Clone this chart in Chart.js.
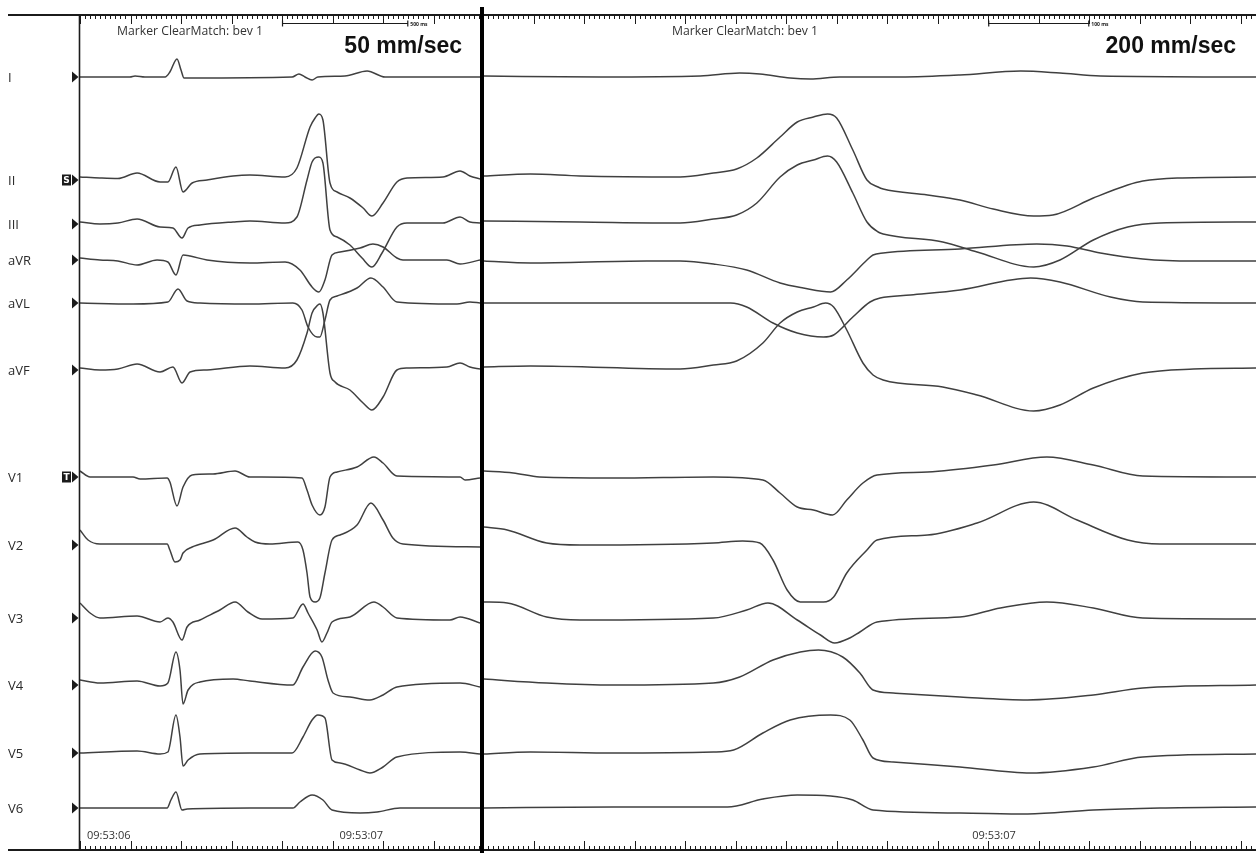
<!DOCTYPE html>
<html>
<head>
<meta charset="utf-8">
<script src="https://cdn.jsdelivr.net/npm/chart.js@4.4.1/dist/chart.umd.min.js"></script>
<style>
  html, body { margin: 0; padding: 0; background: #fff; }
  #wrap { position: relative; width: 1256px; height: 853px; overflow: hidden; }
  canvas { position: absolute; top: 0; }
</style>
</head>
<body>
<div id="wrap">
  <canvas id="slow" width="484" height="853" style="left:0px"></canvas>
  <canvas id="fast" width="772" height="853" style="left:484px"></canvas>
</div>
<script>
const leadNames = ['I', 'II', 'III', 'aVR', 'aVL', 'aVF', 'V1', 'V2', 'V3', 'V4', 'V5', 'V6'];

// 50 mm/sec strip: [ms after 09:53:06, amplitude]
const I_50 = [[0,0],[198,0],[218,1],[257,0],[337,0],[356,5],[384,18],[400,7],[412,-1],[436,-1],[840,0],[867,3],[891,0],[919,-3],[942,0],[1049,1],[1137,6],[1208,0],[1584,0]];
const II_50 = [[0,3],[79,2],[150,1.5],[226,7],[317,-2],[348,-2],[380,13],[408,-12],[444,-3],[503,0],[606,4],[673,5],[812,3],[859,12],[911,53],[931,62],[946,66],[962,60],[990,-3],[1018,-12],[1069,-18],[1121,-28],[1156,-36],[1200,-23],[1255,-2],[1295,2],[1437,3],[1505,9],[1544,4],[1584,1]];
const III_50 = [[0,2],[79,0],[150,1],[226,5],[317,-3],[368,-4],[404,-14],[428,-4],[475,-1],[606,2],[673,3],[812,1],[859,7],[899,44],[919,62],[946,67],[962,61],[990,-6],[1018,-13],[1069,-21],[1117,-34],[1156,-43],[1196,-29],[1255,-3],[1295,1],[1437,1],[1505,7],[1544,2],[1584,1]];
const aVR_50 = [[0,2],[79,0],[150,-1],[226,-5],[305,0],[348,-2],[380,-15],[408,5],[436,4],[503,0],[673,-3],[812,-2],[871,-10],[919,-27],[946,-32],[970,-20],[998,5],[1030,8],[1109,12],[1160,16],[1200,13],[1255,2],[1279,0],[1453,0],[1505,-4],[1584,0]];
const aVL_50 = [[0,0],[210,-1],[348,1],[388,14],[424,2],[475,0],[673,-1],[843,0],[879,-7],[903,-24],[939,-34],[950,-34],[970,-17],[990,3],[1018,7],[1097,15],[1152,25],[1200,16],[1255,1],[1493,-1],[1544,1],[1584,0]];
const aVF_50 = [[0,2],[79,0],[150,1],[226,6],[317,-2],[368,3],[404,-13],[436,-2],[503,0],[673,4],[812,2],[859,10],[899,37],[919,57],[942,65],[950,66],[962,57],[990,-3],[1010,-12],[1069,-20],[1121,-33],[1156,-40],[1200,-27],[1255,0],[1295,2],[1453,3],[1505,7],[1544,3],[1584,1]];
const V1_50 = [[0,6],[40,0],[210,0],[238,-2],[345,-1],[356,-5],[384,-29],[408,-10],[444,2],[527,3],[614,6],[673,0],[879,-1],[899,-13],[919,-28],[950,-38],[970,-30],[990,0],[1018,5],[1097,10],[1164,20],[1200,14],[1255,1],[1505,0],[1525,-3],[1584,-1]];
const V2_50 = [[0,15],[32,5],[79,1],[345,1],[356,-5],[376,-17],[396,-15],[408,-8],[444,-2],[527,5],[614,17],[661,8],[693,3],[752,1],[863,3],[883,-5],[899,-28],[911,-52],[931,-57],[950,-53],[970,-28],[998,5],[1030,10],[1097,20],[1152,42],[1200,25],[1239,7],[1279,1],[1584,-2]];
const V3_50 = [[0,15],[40,5],[79,0],[226,2],[317,-4],[348,0],[368,-4],[404,-22],[424,-9],[475,-2],[554,8],[614,16],[665,6],[721,-1],[843,0],[883,14],[903,5],[939,-12],[958,-24],[978,-15],[998,-4],[1069,1],[1164,16],[1200,11],[1255,0],[1465,-2],[1505,1],[1584,-5]];
const V4_50 = [[0,5],[79,2],[226,4],[317,-1],[348,2],[380,33],[396,15],[408,-19],[428,-5],[475,3],[606,6],[673,4],[843,0],[883,18],[931,34],[958,28],[982,5],[1002,-8],[1069,-12],[1148,-15],[1200,-10],[1255,-2],[1505,2],[1584,-2]];
const V5_50 = [[0,0],[226,2],[317,-1],[348,1],[380,38],[396,16],[408,-13],[428,-7],[475,-1],[673,0],[840,0],[883,16],[919,33],[942,38],[970,35],[998,-7],[1030,-10],[1109,-17],[1148,-20],[1200,-14],[1255,-4],[1505,1],[1584,-1]];
const V6_50 = [[0,0],[345,0],[360,8],[380,16],[404,-2],[424,-1],[673,0],[843,0],[871,6],[919,13],[962,8],[998,-2],[1109,-5],[1176,-4],[1267,0],[1584,0]];

// 200 mm/sec strip: [ms after 09:53:06, amplitude]
const I_200 = [[500,1],[616,0],[715,1],[754,4],[774,3],[804,-1],[824,-2],[853,0],[913,0],[972,2],[1032,6],[1071,4],[1111,1],[1265,0]];
const II_200 = [[500,4],[547,6],[596,4],[695,3],[728,7],[751,11],[771,22],[794,43],[811,58],[827,63],[841,66],[850,62],[866,30],[880,0],[891,-7],[896,-9],[940,-15],[972,-20],[1005,-29],[1045,-36],[1064,-35],[1104,-18],[1138,-5],[1153,-1],[1187,2],[1265,3]];
const III_200 = [[500,3],[596,2],[695,1],[728,5],[751,9],[771,21],[794,47],[811,59],[827,64],[841,68],[850,62],[866,31],[880,2],[891,-8],[896,-10],[955,-18],[989,-28],[1045,-43],[1071,-36],[1104,-16],[1138,-3],[1170,1],[1265,2]];
const aVR_200 = [[500,-1],[547,-3],[662,-1],[695,-1],[728,-4],[761,-10],[794,-23],[817,-28],[844,-32],[860,-20],[880,0],[886,5],[896,7],[972,11],[1048,16],[1078,14],[1111,7],[1153,1],[1203,-1],[1265,-1]];
const aVL_200 = [[500,0],[695,0],[745,0],[761,-4],[787,-20],[811,-30],[837,-34],[847,-32],[866,-14],[883,1],[893,5],[923,8],[972,13],[1042,25],[1071,21],[1121,6],[1153,1],[1265,0]];
const aVF_200 = [[500,3],[547,4],[695,1],[728,5],[751,9],[777,27],[794,47],[811,58],[827,63],[839,67],[847,63],[860,40],[876,7],[886,-5],[896,-10],[955,-17],[989,-25],[1045,-41],[1071,-35],[1104,-18],[1153,-3],[1203,1],[1265,2]];
const V1_200 = [[500,6],[530,4],[556,0],[629,-1],[728,0],[777,-3],[794,-16],[811,-30],[827,-33],[846,-38],[860,-23],[876,-6],[890,2],[940,5],[1005,12],[1058,20],[1104,12],[1153,1],[1265,0]];
const V2_200 = [[500,18],[524,15],[563,2],[596,0],[728,2],[757,4],[774,2],[787,-15],[801,-45],[814,-57],[837,-57],[847,-52],[860,-28],[880,-5],[890,5],[940,10],[989,22],[1045,43],[1088,25],[1138,5],[1170,1],[1265,1]];
const V3_200 = [[500,16],[524,15],[563,1],[596,-2],[728,0],[761,8],[782,15],[811,-2],[834,-17],[848,-25],[863,-20],[873,-14],[890,-4],[972,1],[1012,10],[1058,16],[1104,10],[1153,0],[1265,-1]];
const V4_200 = [[500,6],[563,2],[629,0],[728,2],[754,8],[787,25],[814,33],[832,35],[856,28],[873,12],[886,-5],[906,-8],[972,-12],[1039,-15],[1104,-10],[1153,-3],[1265,0]];
const V5_200 = [[500,-1],[547,1],[629,0],[728,1],[748,3],[777,20],[804,33],[844,38],[863,33],[876,13],[886,-5],[906,-9],[972,-14],[1042,-20],[1104,-14],[1153,-4],[1265,-1]];
const V6_200 = [[500,0],[629,1],[742,1],[777,9],[811,13],[844,12],[866,8],[886,-2],[972,-5],[1039,-6],[1104,-2],[1170,0],[1265,1]];

const slowTraces = [I_50, II_50, III_50, aVR_50, aVL_50, aVF_50, V1_50, V2_50, V3_50, V4_50, V5_50, V6_50];
const fastTraces = [I_200, II_200, III_200, aVR_200, aVL_200, aVF_200, V1_200, V2_200, V3_200, V4_200, V5_200, V6_200];

// layout: where each lead's zero line sits on the shared y axis
const leadBaseline = [773, 670, 626, 590, 547, 480, 373, 305, 232, 165, 97, 42];
const leadTags = { 1: 'S', 6: 'T' };

const INK = '#1b1b1b';
const TRACE = '#404040';

const frame = {
    id: 'frame',
    afterDraw(chart, args, o) {
        const { ctx, chartArea: a, scales: { x, y } } = chart;
        ctx.save();
        ctx.strokeStyle = INK;
        ctx.fillStyle = INK;

        // top and bottom rules
        ctx.lineWidth = 1.8;
        ctx.beginPath();
        ctx.moveTo(o.lineFrom, a.top); ctx.lineTo(chart.width, a.top);
        ctx.moveTo(o.lineFrom, a.bottom); ctx.lineTo(chart.width, a.bottom);
        ctx.stroke();

        // time ruler ticks
        ctx.lineWidth = 1;
        ctx.beginPath();
        for (let t = Math.ceil(x.min / o.minor) * o.minor; t <= x.max; t += o.minor) {
            const px = Math.round(x.getPixelForValue(t)) + 0.5;
            const len = t % o.major === 0 ? 9 : 4;
            ctx.moveTo(px, a.top); ctx.lineTo(px, a.top + len);
            ctx.moveTo(px, a.bottom); ctx.lineTo(px, a.bottom - len);
        }
        ctx.stroke();

        // calibration bar
        const b0 = x.getPixelForValue(o.bar[0]), b1 = x.getPixelForValue(o.bar[1]);
        const by = a.top + 8.5;
        ctx.lineWidth = 1.2;
        ctx.beginPath();
        ctx.moveTo(b0, by); ctx.lineTo(b1, by);
        ctx.moveTo(b0 + 0.5, by - 3); ctx.lineTo(b0 + 0.5, by + 3);
        ctx.moveTo(b1 - 0.5, by - 3); ctx.lineTo(b1 - 0.5, by + 3);
        ctx.stroke();
        ctx.font = 'bold 5px "Open Sans"';
        ctx.textBaseline = 'middle';
        ctx.textAlign = 'left';
        ctx.fillText(o.barLabel, b1 + 2, by + 1.5);

        // header texts
        ctx.fillStyle = '#333';
        ctx.font = '13px "Open Sans"';
        ctx.textBaseline = 'alphabetic';
        ctx.fillText('Marker ClearMatch: bev 1', o.markerX, 34.5, 146);
        ctx.fillStyle = '#111';
        ctx.font = 'bold 23px "Liberation Sans", Arial, sans-serif';
        ctx.textAlign = 'right';
        ctx.fillText(o.speed, o.speedX, 53);

        // clock labels
        ctx.fillStyle = '#333';
        ctx.font = '11px "Open Sans"';
        ctx.textAlign = 'left';
        o.clock.forEach(([t, label, dx]) => {
            ctx.fillText(label, x.getPixelForValue(t) + dx, a.bottom - 11, 44);
        });

        if (o.leads) {
            // left border of the strip
            ctx.strokeStyle = INK;
            ctx.lineWidth = 1.6;
            ctx.beginPath();
            ctx.moveTo(a.left - 0.5, a.top); ctx.lineTo(a.left - 0.5, a.bottom);
            ctx.stroke();

            leadNames.forEach((name, i) => {
                const py = Math.round(y.getPixelForValue(leadBaseline[i]));
                ctx.fillStyle = '#2a2a2a';
                ctx.font = '13px "Open Sans"';
                ctx.textAlign = 'left';
                ctx.textBaseline = 'middle';
                ctx.fillText(name, 8, py + 1);
                ctx.fillStyle = INK;
                ctx.beginPath();
                ctx.moveTo(72, py - 5.5); ctx.lineTo(78.5, py); ctx.lineTo(72, py + 5.5);
                ctx.closePath();
                ctx.fill();
                if (leadTags[i]) {
                    ctx.fillRect(62, py - 5.5, 9, 11);
                    ctx.fillStyle = '#fff';
                    ctx.font = 'bold 9px "DejaVu Sans"';
                    ctx.textAlign = 'center';
                    ctx.fillText(leadTags[i], 66.5, py + 0.5);
                }
            });

            // divider between the two speeds
            ctx.fillStyle = '#000';
            ctx.fillRect(480, 7, 4, chart.height - 7);
        }
        ctx.restore();
    }
};

function buildDatasets(traces) {
    return traces.map((pairs, i) => ({
        label: leadNames[i],
        data: pairs.map(([t, v]) => ({ x: t, y: leadBaseline[i] + v })),
        borderColor: TRACE,
        borderWidth: 1.5,
        pointRadius: 0,
        fill: false,
        cubicInterpolationMode: 'monotone'
    }));
}

function makeStrip(id, traces, xMin, xMax, padding, frameOpts) {
    return new Chart(document.getElementById(id), {
        type: 'line',
        data: { datasets: buildDatasets(traces) },
        options: {
            responsive: false,
            animation: false,
            devicePixelRatio: 1,
            layout: { padding },
            plugins: {
                legend: { display: false },
                tooltip: { enabled: false },
                frame: frameOpts
            },
            scales: {
                x: { type: 'linear', min: xMin, max: xMax, display: false },
                y: { type: 'linear', min: 0, max: 835, display: false }
            }
        },
        plugins: [frame]
    });
}

makeStrip('slow', slowTraces, 0, 1584, { left: 80, right: 4, top: 15, bottom: 3 }, {
    lineFrom: 8, minor: 20, major: 200, bar: [800, 1300], barLabel: '500 ms',
    markerX: 117, speed: '50 mm/sec', speedX: 462,
    clock: [[0, '09:53:06', 7], [1000, '09:53:07', 7]], leads: true
});

makeStrip('fast', fastTraces, 501, 1265, { left: 0, right: 0, top: 15, bottom: 3 }, {
    lineFrom: 0, minor: 5, major: 50, bar: [1000, 1100], barLabel: '100 ms',
    markerX: 188, speed: '200 mm/sec', speedX: 752,
    clock: [[1000, '09:53:07', -16]], leads: false
});
</script>
</body>
</html>
